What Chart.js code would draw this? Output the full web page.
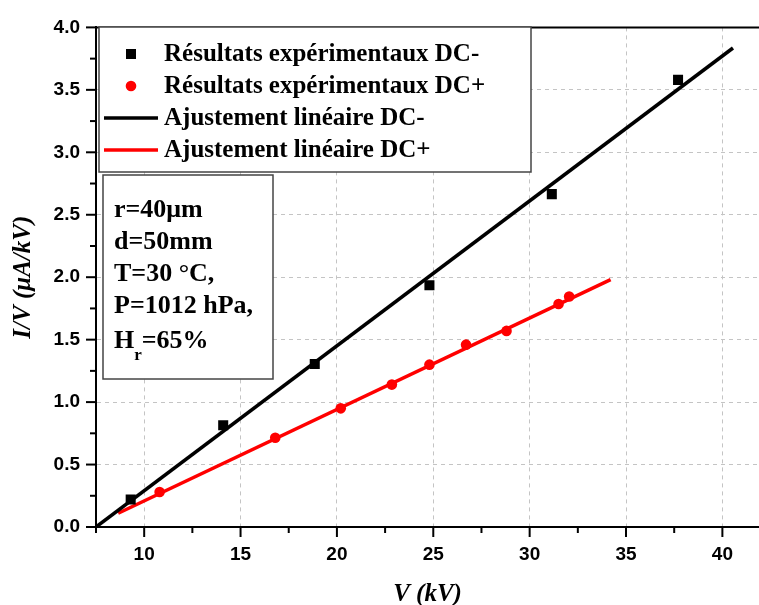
<!DOCTYPE html>
<html>
<head>
<meta charset="utf-8">
<script src="https://cdn.jsdelivr.net/npm/chart.js@4.4.0/dist/chart.umd.min.js"></script>
<style>
  html, body { margin: 0; padding: 0; background: #fff; }
  #chart { display: block; }
</style>
</head>
<body>
<canvas id="chart" width="759" height="605"></canvas>
<script>
// Experimental points, DC- (black squares)
const dcMinusV = [9.3, 14.1, 18.85, 24.8, 31.15, 37.7];
const dcMinusIV = [0.22, 0.815, 1.305, 1.935, 2.665, 3.58];

// Experimental points, DC+ (red circles)
const dcPlusV = [10.8, 16.8, 20.2, 22.85, 24.8, 26.7, 28.8, 31.5, 32.05];
const dcPlusIV = [0.28, 0.715, 0.95, 1.14, 1.3, 1.46, 1.57, 1.785, 1.845];

// Linear fits (end points of the drawn lines)
const fitMinusV = [7.5, 40.55];
const fitMinusIV = [0.0, 3.835];
const fitPlusV = [8.65, 34.2];
const fitPlusIV = [0.11, 1.98];

const seriesLabels = [
    'Résultats expérimentaux DC-',
    'Résultats expérimentaux DC+',
    'Ajustement linéaire DC-',
    'Ajustement linéaire DC+'
];

// Conditions box
const infoLines = ['r=40μm', 'd=50mm', 'T=30 °C,', 'P=1012 hPa,'];
const humidityLine = ['H', 'r', '=65%']; // base, subscript, rest

// Axis ticks
const xTicks = [10, 15, 20, 25, 30, 35, 40];
const xTickLabels = ['10', '15', '20', '25', '30', '35', '40'];
const yTicks = [0, 0.5, 1.0, 1.5, 2.0, 2.5, 3.0, 3.5, 4.0];
const yTickLabels = ['0.0', '0.5', '1.0', '1.5', '2.0', '2.5', '3.0', '3.5', '4.0'];

const serif = "'Liberation Serif', 'Times New Roman', serif";
const sans = "'Liberation Sans', Arial, sans-serif";

function toPoints(xs, ys) {
    return xs.map((x, i) => ({ x: x, y: ys[i] }));
}

// Draws minor/major tick marks, the top frame, the legend and the info box
const decorations = {
    id: 'decorations',
    afterDraw(chart) {
        const ctx = chart.ctx;
        const area = chart.chartArea;
        const xs = chart.scales.x;
        const ys = chart.scales.y;

        ctx.save();
        ctx.strokeStyle = '#000';
        ctx.lineWidth = 2;

        // x tick marks (major every 5, minor in between)
        const xAll = [];
        xTicks.forEach(v => {
            xAll.push({ v: v, len: 10 });
            xAll.push({ v: v - 2.5, len: 6 });
        });
        xAll.push({ v: xTicks[xTicks.length - 1] + 2.5, len: 6 });
        xAll.forEach(t => {
            if (t.v < xs.min || t.v > xs.max) return;
            const px = xs.getPixelForValue(t.v);
            ctx.beginPath();
            ctx.moveTo(px, area.bottom);
            ctx.lineTo(px, area.bottom + t.len);
            ctx.stroke();
        });

        // y tick marks
        const yAll = [];
        yTicks.forEach((v, i) => {
            yAll.push({ v: v, len: 10 });
            if (i > 0) yAll.push({ v: v - 0.25, len: 6 });
        });
        yAll.forEach(t => {
            const py = ys.getPixelForValue(t.v);
            ctx.beginPath();
            ctx.moveTo(area.left, py);
            ctx.lineTo(area.left - t.len, py);
            ctx.stroke();
        });

        // top frame line
        ctx.beginPath();
        ctx.moveTo(area.left - 1, area.top);
        ctx.lineTo(area.right, area.top);
        ctx.stroke();

        // legend box
        const lx = 99, ly = 27, lw = 432, lh = 145;
        ctx.fillStyle = '#fff';
        ctx.fillRect(lx, ly, lw, lh);
        ctx.lineWidth = 1.5;
        ctx.strokeStyle = '#444';
        ctx.strokeRect(lx, ly, lw, lh);

        ctx.font = 'bold 25px ' + serif;
        ctx.textBaseline = 'middle';
        ctx.textAlign = 'left';
        chart.data.datasets.forEach((ds, i) => {
            const cy = 54 + i * 32;
            if (ds.showLine) {
                ctx.strokeStyle = ds.borderColor;
                ctx.lineWidth = 3.5;
                ctx.beginPath();
                ctx.moveTo(104, cy);
                ctx.lineTo(158, cy);
                ctx.stroke();
            } else {
                ctx.fillStyle = ds.backgroundColor;
                if (ds.pointStyle === 'rect') {
                    ctx.fillRect(131 - 5, cy - 5, 10, 10);
                } else {
                    ctx.beginPath();
                    ctx.arc(131, cy, 5.3, 0, Math.PI * 2);
                    ctx.fill();
                }
            }
            ctx.fillStyle = '#000';
            ctx.fillText(ds.label, 164, cy + 1);
        });

        // conditions box
        const bx = 103, by = 175, bw = 170, bh = 204;
        ctx.fillStyle = '#fff';
        ctx.fillRect(bx, by, bw, bh);
        ctx.lineWidth = 1.5;
        ctx.strokeStyle = '#444';
        ctx.strokeRect(bx, by, bw, bh);

        ctx.fillStyle = '#000';
        ctx.font = 'bold 26px ' + serif;
        infoLines.forEach((s, i) => {
            ctx.fillText(s, 114, 210 + i * 32);
        });
        const hy = 341;
        ctx.fillText(humidityLine[0], 114, hy);
        let hx = 114 + ctx.measureText(humidityLine[0]).width;
        ctx.font = 'bold 17px ' + serif;
        ctx.fillText(humidityLine[1], hx, hy + 15);
        hx += ctx.measureText(humidityLine[1]).width;
        ctx.font = 'bold 26px ' + serif;
        ctx.fillText(humidityLine[2], hx, hy);

        ctx.restore();
    }
};

const ctx = document.getElementById('chart').getContext('2d');

const chart = new Chart(ctx, {
    type: 'scatter',
    data: {
        datasets: [
            {
                label: seriesLabels[0],
                data: toPoints(dcMinusV, dcMinusIV),
                pointStyle: 'rect',
                pointRadius: 7.1,
                backgroundColor: '#000',
                borderColor: '#000',
                borderWidth: 0,
                showLine: false
            },
            {
                label: seriesLabels[1],
                data: toPoints(dcPlusV, dcPlusIV),
                pointStyle: 'circle',
                pointRadius: 5.3,
                backgroundColor: '#ff0000',
                borderColor: '#ff0000',
                borderWidth: 0,
                showLine: false
            },
            {
                label: seriesLabels[2],
                data: toPoints(fitMinusV, fitMinusIV),
                showLine: true,
                borderColor: '#000',
                backgroundColor: '#000',
                borderWidth: 3.5,
                pointRadius: 0
            },
            {
                label: seriesLabels[3],
                data: toPoints(fitPlusV, fitPlusIV),
                showLine: true,
                borderColor: '#ff0000',
                backgroundColor: '#ff0000',
                borderWidth: 3.5,
                pointRadius: 0
            }
        ]
    },
    options: {
        responsive: false,
        animation: false,
        devicePixelRatio: 1,
        layout: {
            autoPadding: false,
            padding: { top: 21, left: 0, right: 0, bottom: 0 }
        },
        plugins: {
            legend: { display: false },
            tooltip: { enabled: false }
        },
        scales: {
            x: {
                type: 'linear',
                min: 7.5,
                max: 41.9,
                afterBuildTicks: scale => {
                    scale.ticks = xTicks.map(v => ({ value: v }));
                },
                afterFit: scale => {
                    scale.height = 78;
                },
                ticks: {
                    autoSkip: false,
                    maxRotation: 0,
                    padding: 16,
                    color: '#000',
                    font: { family: sans, weight: 'bold', size: 19 },
                    callback: (value) => xTickLabels[xTicks.indexOf(value)]
                },
                grid: {
                    drawTicks: false,
                    color: '#c4c4c4',
                    lineWidth: 1
                },
                border: { color: '#000', width: 2, dash: [4, 4] },
                title: {
                    display: true,
                    text: 'V (kV)',
                    color: '#000',
                    font: { family: serif, style: 'italic', weight: 'bold', size: 25, lineHeight: 0.8 },
                    padding: 0
                }
            },
            y: {
                type: 'linear',
                min: 0,
                max: 4,
                afterBuildTicks: scale => {
                    scale.ticks = yTicks.map(v => ({ value: v }));
                },
                afterFit: scale => {
                    scale.width = 96;
                },
                ticks: {
                    autoSkip: false,
                    padding: 16,
                    color: '#000',
                    font: { family: sans, weight: 'bold', size: 19 },
                    callback: (value) => yTickLabels[yTicks.indexOf(value)]
                },
                grid: {
                    drawTicks: false,
                    color: (c) => (c.tick && (c.tick.value === 0 || c.tick.value === 4)) ? 'rgba(0,0,0,0)' : '#c4c4c4',
                    lineWidth: 1
                },
                border: { color: '#000', width: 2, dash: [4, 4] },
                title: {
                    display: true,
                    text: 'I/V (μA/kV)',
                    color: '#000',
                    font: { family: serif, style: 'italic', weight: 'bold', size: 25 },
                    padding: { top: 9, bottom: 0 }
                }
            }
        }
    },
    plugins: [decorations]
});
</script>
</body>
</html>
